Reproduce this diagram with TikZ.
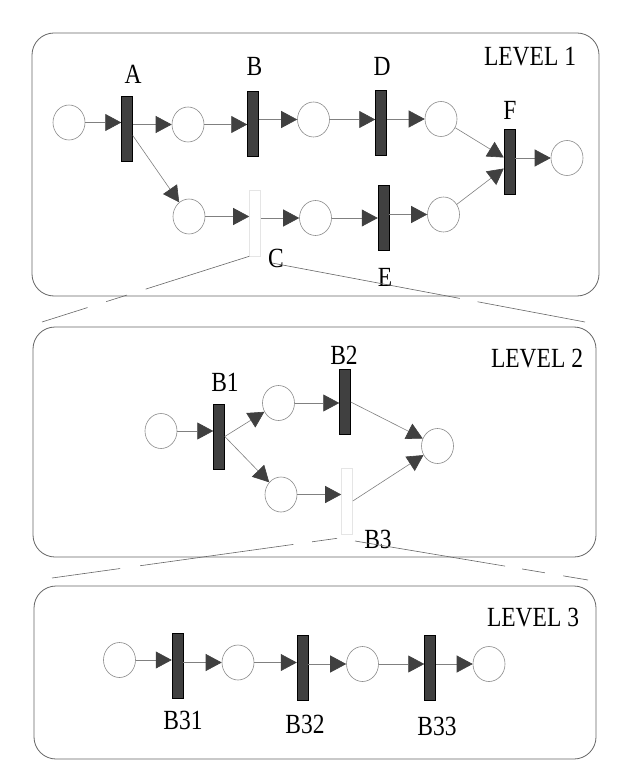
\documentclass[tikz,border=0pt]{standalone}
\usepackage{fontspec}
\usepackage{graphicx}
\setmainfont{Liberation Serif}
\usetikzlibrary{arrows.meta,shapes.geometric,calc}
\newcommand{\tallt}[1]{\scalebox{1}[1.18]{#1}}
\tikzset{
 pl/.style={ellipse, draw=black!45, line width=0.6pt, minimum width=32pt, minimum height=35pt, inner sep=0pt},
 tr/.style={rectangle, draw=black, fill=black!75, line width=0.5pt, minimum width=11pt, minimum height=65pt, inner sep=0pt},
 tg/.style={rectangle, draw=black!10, line width=0.6pt, minimum width=11pt, minimum height=66pt, inner sep=0pt},
 flow/.style={draw=black!50, line width=0.6pt, -{Triangle[length=16pt,width=17pt,color=black!75]}},
 levelbox/.style={draw=black!60, line width=0.8pt, rounded corners=22pt},
 zoomline/.style={draw=black!60, line width=0.6pt},
 lbl/.style={font=\fontsize{23.5}{26}\selectfont, inner sep=0pt},
}
\begin{document}
\begin{tikzpicture}[x=1pt,y=-1pt]
\useasboundingbox (0,0) rectangle (620,775);
\fill[white] (0,0) rectangle (620,775);

% level frames
\draw[levelbox] (32,33) rectangle (599,296);
\draw[levelbox] (33,327) rectangle (596,557);
\draw[levelbox] (34,586) rectangle (596,759);

% ---------------- LEVEL 1 ----------------
\node[lbl] (lv1) at (530,57) {\tallt{LEVEL 1}};
\node[pl] (p1) at (69,122.5) {};
\node[tr] (tA) at (127,128.5) {};
\node[pl] (p2) at (188,124.5) {};
\node[tr] (tB) at (253,124) {};
\node[pl] (p3) at (313.5,119.5) {};
\node[tr] (tD) at (381,123) {};
\node[pl] (p4) at (441,119) {};
\node[tr] (tF) at (509.5,161.5) {};
\node[pl] (p5) at (567,158) {};
\node[pl] (p6) at (189,216.5) {};
\node[tg] (tC) at (255,223) {};
\node[pl] (p7) at (315.5,218) {};
\node[tr] (tE) at (383.5,218) {};
\node[pl] (p8) at (443.5,214.5) {};

\node[lbl] (lA) at (133,74) {\tallt{A}};
\node[lbl] (lB) at (254.5,66) {\tallt{B}};
\node[lbl] (lD) at (382,66) {\tallt{D}};
\node[lbl] (lF) at (510,110) {\tallt{F}};
\node[lbl] (lC) at (276,258) {\tallt{C}};
\node[lbl] (lE) at (385,277) {\tallt{E}};

\draw[flow] (p1.east) -- (p1.east -| tA.west);
\draw[flow] (tA.east |- p2.west) -- (p2.west);
\draw[flow] (p2.east) -- (p2.east -| tB.west);
\draw[flow] (tB.east |- p3.west) -- (p3.west);
\draw[flow] (p3.east) -- (p3.east -| tD.west);
\draw[flow] (tD.east |- p4.west) -- (p4.west);
\draw[flow] (p4) -- ([yshift=4pt]tF.west);
\draw[flow] (p8) -- ([yshift=-7pt]tF.west);
\draw[flow] (tF.east |- p5.west) -- (p5.west);
\draw[flow] ([yshift=-7pt]tA.east) -- (p6);
\draw[flow] (p6.east) -- (p6.east -| tC.west);
\draw[flow] (tC.east |- p7.west) -- (p7.west);
\draw[flow] (p7.east) -- (p7.east -| tE.west);
\draw[flow] (tE.east |- p8.west) -- (p8.west);

% zoom lines from C
\coordinate (s1) at (tC.south west);
\coordinate (z1) at (42,322);
\coordinate (s2) at ($(lC.center)+(-4,5)$);
\coordinate (z2) at (585,322);
\draw[zoomline] (s1) -- ($(s1)!0.50!(z1)$);
\draw[zoomline] ($(s1)!0.59!(z1)$) -- ($(s1)!0.69!(z1)$);
\draw[zoomline] ($(s1)!0.78!(z1)$) -- (z1);
\draw[zoomline] (s2) -- ($(s2)!0.60!(z2)$);
\draw[zoomline] ($(s2)!0.657!(z2)$) -- (z2);

% ---------------- LEVEL 2 ----------------
\node[lbl] (lv2) at (537,359) {\tallt{LEVEL 2}};
\node[pl] (q1) at (161,431) {};
\node[tr] (tB1) at (219,436.5) {};
\node[pl] (q2) at (278.5,403) {};
\node[tr] (tB2) at (345,402) {};
\node[pl] (q3) at (281,494.5) {};
\node[tg] (tB3) at (347,501) {};
\node[pl] (q4) at (437.5,446) {};

\node[lbl] (lB1) at (225,382) {\tallt{B1}};
\node[lbl] (lB2) at (344,355) {\tallt{B2}};
\node[lbl] (lB3) at (378,539) {\tallt{B3}};

\draw[flow] (q1.east) -- (q1.east -| tB1.west);
\draw[flow] (tB1.east) -- (q2);
\draw[flow] (tB1.east) -- (q3);
\draw[flow] (q2.east) -- (q2.east -| tB2.west);
\draw[flow] (q3.east) -- (q3.east -| tB3.west);
\draw[flow] (tB2.east) -- (q4);
\draw[flow] (tB3.east) -- (q4);

% zoom lines from B3
\coordinate (s3) at ($(tB3.south west)+(-4,4)$);
\coordinate (z3) at (52,578);
\coordinate (s4) at ($(lB3.center)+(-23,2)$);
\coordinate (z4) at (588,580);
\draw[zoomline] (s3) -- ($(s3)!0.088!(z3)$);
\draw[zoomline] ($(s3)!0.154!(z3)$) -- ($(s3)!0.691!(z3)$);
\draw[zoomline] ($(s3)!0.761!(z3)$) -- (z3);
\draw[zoomline] (s4) -- ($(s4)!0.644!(z4)$);
\draw[zoomline] ($(s4)!0.717!(z4)$) -- ($(s4)!0.815!(z4)$);
\draw[zoomline] ($(s4)!0.893!(z4)$) -- (z4);

% ---------------- LEVEL 3 ----------------
\node[lbl] (lv3) at (533,618) {\tallt{LEVEL 3}};
\node[pl] (r1) at (119.5,660) {};
\node[tr] (tB31) at (177.5,666) {};
\node[pl] (r2) at (238,662.5) {};
\node[tr] (tB32) at (302.5,667.5) {};
\node[pl] (r3) at (362.5,664) {};
\node[tr] (tB33) at (430,667.5) {};
\node[pl] (r4) at (489,664) {};

\node[lbl] (lB31) at (183,720) {\tallt{B31}};
\node[lbl] (lB32) at (305,724) {\tallt{B32}};
\node[lbl] (lB33) at (437,726) {\tallt{B33}};

\draw[flow] (r1.east) -- (r1.east -| tB31.west);
\draw[flow] (tB31.east |- r2.west) -- (r2.west);
\draw[flow] (r2.east) -- (r2.east -| tB32.west);
\draw[flow] (tB32.east |- r3.west) -- (r3.west);
\draw[flow] (r3.east) -- (r3.east -| tB33.west);
\draw[flow] (tB33.east |- r4.west) -- (r4.west);
\end{tikzpicture}
\end{document}
